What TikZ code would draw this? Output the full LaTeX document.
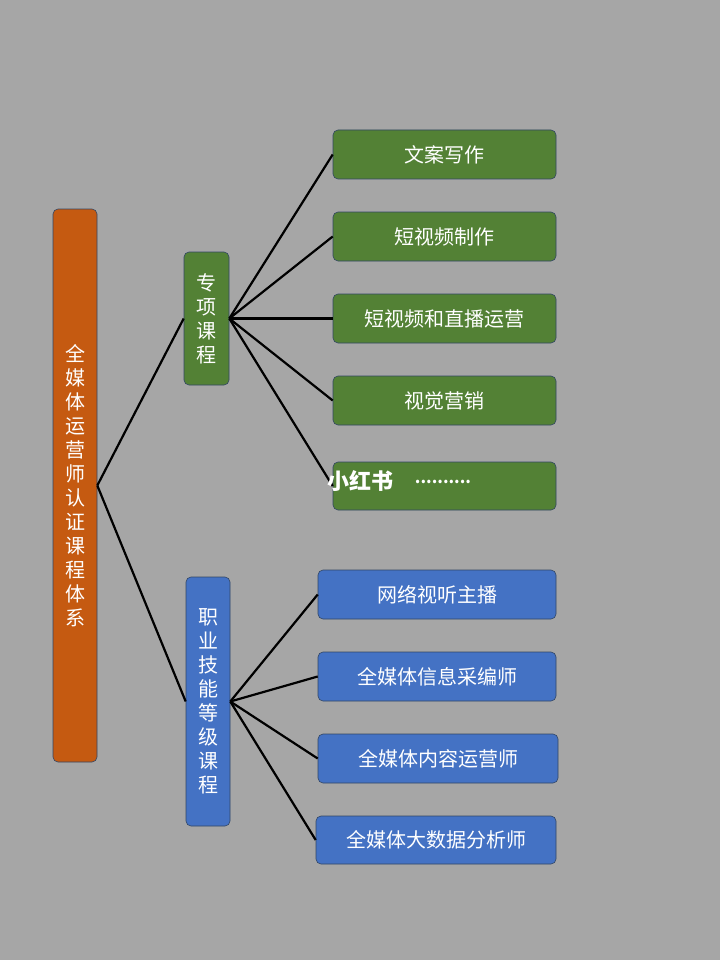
\documentclass[tikz,border=0pt]{standalone}
\usepackage{fontspec}
\setmainfont{Noto Sans CJK SC}
\definecolor{bgc}{RGB}{166,166,166}
\definecolor{grc}{RGB}{83,129,53}
\definecolor{blc}{RGB}{68,114,196}
\definecolor{ogc}{RGB}{197,90,17}
\definecolor{edc}{RGB}{50,70,100}
\begin{document}
\begin{tikzpicture}[x=1pt,y=-1pt,
 bx/.style={draw=edc,line width=0.6pt,rounded corners=5pt,text=white,font=\fontsize{20}{24}\selectfont,inner sep=0pt},
 gr/.style={bx,fill=grc},
 bl/.style={bx,fill=blc},
 og/.style={bx,fill=ogc},
 ln/.style={line width=2.2pt,black}]
\fill[bgc] (0,0) rectangle (720,960);
\useasboundingbox (0,0) rectangle (720,960);
\node[og,minimum width=44pt,minimum height=553pt,align=center] (root) at (75,485.5) {全\\媒\\体\\运\\营\\师\\认\\证\\课\\程\\体\\系};
\node[gr,minimum width=45pt,minimum height=133pt,align=center] (a) at (206.5,318.5) {专\\项\\课\\程};
\node[bl,minimum width=44pt,minimum height=249pt,align=center] (b) at (208,701.5) {职\\业\\技\\能\\等\\级\\课\\程};
\node[gr,minimum width=223pt,minimum height=49pt] (a1) at (444.5,154.5) {文案写作};
\node[gr,minimum width=223pt,minimum height=49pt] (a2) at (444.5,236.5) {短视频制作};
\node[gr,minimum width=223pt,minimum height=49pt] (a3) at (444.5,318.5) {短视频和直播运营};
\node[gr,minimum width=223pt,minimum height=49pt] (a4) at (444.5,400.5) {视觉营销};
\node[gr,minimum width=223pt,minimum height=48pt] (a5) at (444.5,486) {};
\node[bl,minimum width=238pt,minimum height=49pt] (b1) at (437,594.5) {网络视听主播};
\node[bl,minimum width=238pt,minimum height=49pt] (b2) at (437,676.5) {全媒体信息采编师};
\node[bl,minimum width=240pt,minimum height=49pt] (b3) at (438,758.5) {全媒体内容运营师};
\node[bl,minimum width=240pt,minimum height=48pt] (b4) at (436,840) {全媒体大数据分析师};
\coordinate (r) at (root.east);
\draw[ln] (r) -- (a.west);
\draw[ln] (r) -- (b.west);
\foreach \t in {a1,a2,a3,a4,a5} \draw[ln] (a.east) -- (\t.west);
\foreach \t in {b1,b2,b3,b4} \draw[ln] (b.east) -- (\t.west);
\node[text=white,font=\fontsize{22}{24}\selectfont\bfseries,inner sep=0pt] (w) at (360,481) {小红书};
\node[text=white,font=\fontsize{16}{18}\selectfont\bfseries,inner sep=0pt] (d) at (443,482) {..........};
\end{tikzpicture}
\end{document}
